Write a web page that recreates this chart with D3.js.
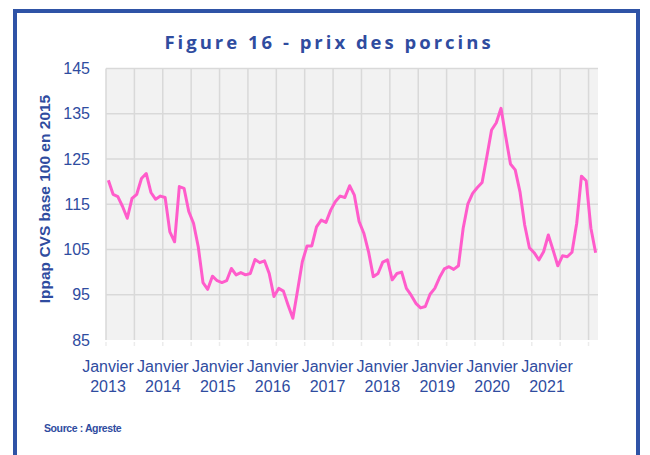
<!DOCTYPE html>
<html>
<head>
<meta charset="utf-8">
<script src="https://cdn.jsdelivr.net/npm/d3@7"></script>
<style>
  html, body { margin: 0; padding: 0; background: #fff; }
  svg { display: block; }
</style>
</head>
<body>
<svg id="chart" width="650" height="455"></svg>
<script>
// ---- data (monthly, Janvier 2013 -> Aout 2021) ----
var startYear = 2013;
var labelYears = ["2013", "2014", "2015", "2016", "2017", "2018", "2019", "2020", "2021"];
var yTicks = [85, 95, 105, 115, 125, 135, 145];
var prix = [
  120.3, 117.2, 116.7, 114.5, 111.9, 116.3, 117.2, 120.7, 121.8, 117.6, 116.1, 116.8,
  116.5, 108.9, 106.7, 118.9, 118.5, 113.4, 110.8, 105.6, 97.7, 96.2, 99.1, 98.1,
  97.7, 98.1, 100.8, 99.4, 99.9, 99.4, 99.7, 102.8, 102.1, 102.5, 99.7, 94.6,
  96.4, 95.8, 92.7, 89.8, 96.0, 102.3, 105.8, 105.8, 110.0, 111.5, 111.0, 113.7,
  115.6, 116.8, 116.5, 119.1, 117.0, 111.2, 108.6, 104.5, 99.0, 99.7, 102.2, 102.7,
  98.3, 99.7, 100.0, 96.4, 94.9, 93.1, 92.1, 92.4, 95.1, 96.4, 98.8, 100.7,
  101.2, 100.6, 101.4, 109.7, 115.1, 117.4, 118.7, 119.8, 125.5, 131.4, 133.0, 136.2,
  129.9, 123.9, 122.6, 117.8, 110.4, 105.4, 104.3, 102.7, 104.5, 108.2, 104.9, 101.4,
  103.6, 103.4, 104.4, 110.8, 121.2, 120.2, 109.7, 104.3
];

var blue = "#2f4c9f";
var svg = d3.select("#chart");

// cadre
svg.append("rect")
  .attr("x", 15).attr("y", 11)
  .attr("width", 623).attr("height", 460)
  .attr("fill", "none")
  .attr("stroke", "#2f53a6")
  .attr("stroke-width", 4);

// titre
svg.append("text")
  .attr("x", 329).attr("y", 49)
  .attr("text-anchor", "middle")
  .attr("fill", blue)
  .style("font-family", "'Open Sans', sans-serif")
  .style("font-weight", "bold")
  .style("font-size", "18.5px")
  .style("letter-spacing", "3px")
  .text("Figure 16 - prix des porcins");

var plot = { left: 106, top: 68.5, right: 598, bottom: 340 };

// x: index de mois (categories entre graduations)
var x = d3.scaleLinear()
  .domain([0, prix.length])
  .range([plot.left, plot.right]);
var y = d3.scaleLinear()
  .domain([85, 145])
  .range([plot.bottom, plot.top]);

svg.append("rect")
  .attr("x", plot.left).attr("y", plot.top)
  .attr("width", plot.right - plot.left)
  .attr("height", plot.bottom - plot.top)
  .attr("fill", "#f2f2f2");

// grille horizontale
svg.append("g").selectAll("line")
  .data(yTicks.filter(d => d > 85))
  .enter().append("line")
  .attr("x1", plot.left).attr("x2", plot.right)
  .attr("y1", d => y(d)).attr("y2", d => y(d))
  .attr("stroke", "#d9d9d9").attr("stroke-width", 1.5);

// grille verticale tous les 6 mois
var vTicks = d3.range(0, prix.length, 6);
svg.append("g").selectAll("line")
  .data(vTicks)
  .enter().append("line")
  .attr("x1", d => x(d)).attr("x2", d => x(d))
  .attr("y1", plot.top).attr("y2", plot.bottom)
  .attr("stroke", "#d9d9d9").attr("stroke-width", 1.5);
svg.append("g").selectAll("line")
  .data(vTicks)
  .enter().append("line")
  .attr("x1", d => x(d)).attr("x2", d => x(d))
  .attr("y1", plot.bottom + 2).attr("y2", plot.bottom + 6)
  .attr("stroke", "#ececec").attr("stroke-width", 1.5);

// axe y
svg.append("g").selectAll("text")
  .data(yTicks)
  .enter().append("text")
  .attr("x", 90)
  .attr("y", d => y(d) + 5.5)
  .attr("text-anchor", "end")
  .attr("fill", blue)
  .style("font-family", "'Liberation Sans', Arial, sans-serif")
  .style("font-size", "16px")
  .text(d => d);

svg.append("text")
  .attr("transform", "translate(50,199) rotate(-90)")
  .attr("text-anchor", "middle")
  .attr("fill", blue)
  .style("font-family", "'Liberation Sans', Arial, sans-serif")
  .style("font-weight", "bold")
  .style("font-size", "15.5px")
  .text("Ippap CVS base 100 en 2015");

// axe x
var xl = d3.scalePoint()
  .domain(labelYears)
  .range([108, 547]);
var lab = svg.append("g").selectAll("text")
  .data(labelYears)
  .enter().append("text")
  .attr("text-anchor", "middle")
  .attr("fill", blue)
  .style("font-family", "'Liberation Sans', Arial, sans-serif")
  .style("font-size", "16px");
lab.append("tspan").attr("x", d => xl(d)).attr("y", 372).text("Janvier");
lab.append("tspan").attr("x", d => xl(d)).attr("y", 392).text(d => d);

// courbe
var line = d3.line()
  .x((d, i) => x(i + 0.5))
  .y(d => y(d));
svg.append("path")
  .datum(prix)
  .attr("d", line)
  .attr("fill", "none")
  .attr("stroke", "#ff5ccb")
  .attr("stroke-width", 3)
  .attr("stroke-linejoin", "round");

// source
svg.append("text")
  .attr("x", 44).attr("y", 432)
  .attr("fill", blue)
  .style("font-family", "'Liberation Sans Narrow', 'Liberation Sans', Arial, sans-serif")
  .style("font-weight", "900")
  .style("font-size", "10.5px")
  .style("letter-spacing", "-0.4px")
  .text("Source : Agreste");
</script>
</body>
</html>
